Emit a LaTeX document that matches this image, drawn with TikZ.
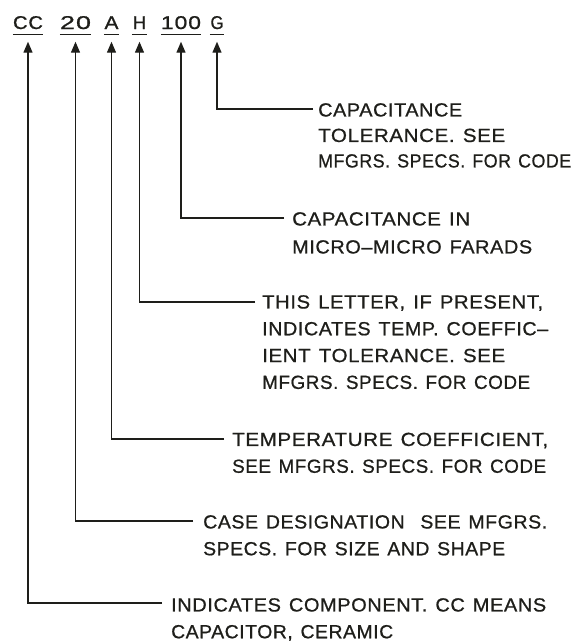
\documentclass[tikz,border=0pt]{standalone}
\usepackage{fontspec}
\usepackage{graphicx}
\setmainfont{Liberation Sans}
\newfontfamily\lblfont[LetterSpace=3,WordSpace=1.3,FakeBold=0.8]{Liberation Sans}
\newfontfamily\codefont[LetterSpace=4,FakeBold=0.8]{Liberation Sans}
\newcommand\fitln[2]{\resizebox{#1pt}{\height}{#2}}
\usetikzlibrary{arrows.meta}
\definecolor{ink}{HTML}{1E1E1A}
\begin{document}
\begin{tikzpicture}[x=1pt,y=-1pt,
  code/.style={font=\codefont\fontsize{18.5}{20}\selectfont, text=ink, inner xsep=0pt, inner ysep=5pt, text depth=0pt, anchor=base},
  desc/.style={font=\lblfont\fontsize{19}{26.8}\selectfont, text=ink, align=left, inner sep=0pt, anchor=north west},
  conn/.style={draw=ink, line width=1.3pt, -{Triangle[length=11pt,width=9pt]}, shorten >=7.5pt},
  uline/.style={draw=ink, line width=1.3pt}]
\useasboundingbox (0,0) rectangle (576,643);

% code letters
\node[code, minimum width=30pt] (cc)  at (28,29)  {\fitln{30}{CC}};
\node[code, minimum width=31pt] (n20) at (75.5,29)  {\fitln{31}{20}};
\node[code, minimum width=15pt] (la)  at (111.5,29) {\fitln{14}{A}};
\node[code, minimum width=15pt] (lh)  at (139.5,29) {\fitln{13}{H}};
\node[code, minimum width=40pt] (n100) at (181,29) {\fitln{40}{100}};
\node[code, minimum width=14pt] (lg)  at (217,29) {\fitln{13}{G}};
\foreach \n in {cc,n20,la,lh,n100,lg}
  \draw[uline] (\n.south west) -- (\n.south east);

% descriptions
\node[desc, font=\lblfont\fontsize{19}{25.5}\selectfont] (dg) at (318,103)
  {\fitln{144}{CAPACITANCE}\\\fitln{187}{TOLERANCE. SEE}\\\fitln{253}{MFGRS. SPECS. FOR CODE}};
\node[desc, font=\lblfont\fontsize{19}{28}\selectfont] (d100) at (292,212)
  {\fitln{178}{CAPACITANCE IN}\\\fitln{240}{MICRO–MICRO FARADS}};
\node[desc] (dh) at (262,295)
  {\fitln{281}{THIS LETTER, IF PRESENT,}\\\fitln{286}{INDICATES TEMP. COEFFIC–}\\\fitln{243}{IENT TOLERANCE. SEE}\\\fitln{268}{MFGRS. SPECS. FOR CODE}};
\node[desc] (da) at (232,432.5)
  {\fitln{316}{TEMPERATURE COEFFICIENT,}\\\fitln{314}{SEE MFGRS. SPECS. FOR CODE}};
\node[desc] (d20) at (203,515)
  {\fitln{344}{CASE DESIGNATION\ \ SEE MFGRS.}\\\fitln{302}{SPECS. FOR SIZE AND SHAPE}};
\node[desc] (dcc) at (171,598)
  {\fitln{375}{INDICATES COMPONENT. CC MEANS}\\\fitln{222}{CAPACITOR, CERAMIC}};

% connector ends
\coordinate (eg) at (313,109);
\coordinate (e100) at (284,218);
\coordinate (eh) at (255,302);
\coordinate (ea) at (224,439);
\coordinate (e20) at (193,521);
\coordinate (ecc) at (162,603);

\draw[conn] (eg) -| (lg.south);
\draw[conn] (e100) -| (n100.south);
\draw[conn] (eh) -| (lh.south);
\draw[conn] (ea) -| (la.south);
\draw[conn] (e20) -| (n20.south);
\draw[conn] (ecc) -| (cc.south);
\end{tikzpicture}
\end{document}
